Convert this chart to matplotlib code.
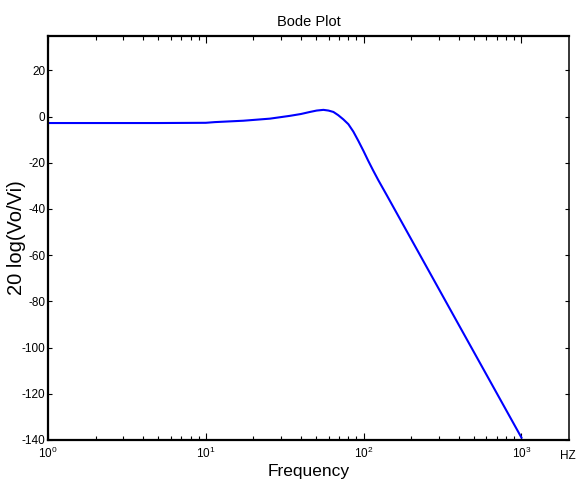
import matplotlib
matplotlib.use("Agg")
import matplotlib.pyplot as plt
from matplotlib.ticker import FixedLocator, FuncFormatter, NullFormatter
import numpy as np

# Magnitude response readings: frequency (Hz) and gain (dB)
freq_hz = [1, 5, 10, 11.4, 17.3, 25.5, 34, 40, 45.7, 50.4, 55.6, 59.8, 64.3,
           69, 74.3, 80, 86, 92.5, 99.6, 107, 115, 124, 140, 374, 1000]
gain_db = [-2.8, -2.8, -2.7, -2.4, -1.8, -0.9, 0.3, 1.1, 2.0, 2.6, 2.9, 2.6, 2.0,
           0.6, -1.2, -3.3, -6.5, -10.5, -14.8, -19.2, -23.4, -27.6, -34.0, -86.5, -139.0]

x_decades = [0, 1, 2, 3]
y_ticks = [-140, -120, -100, -80, -60, -40, -20, 0, 20]

narrow = ["Liberation Sans Narrow", "Liberation Sans", "DejaVu Sans"]
plt.rcParams["font.family"] = narrow
plt.rcParams["axes.unicode_minus"] = False

fig = plt.figure(figsize=(5.77, 4.91), dpi=100)
ax = fig.add_axes([48 / 577, 1 - 440 / 491, (569 - 48) / 577, (440 - 35.7) / 491])

ax.semilogx(freq_hz, gain_db, color="#0000ff", lw=1.5, solid_joinstyle="round")

ax.set_xlim(1, 2000)
ax.set_ylim(-140, 35)

major_x = [10.0 ** d for d in x_decades]
minor_x = [m * 10.0 ** d for d in x_decades for m in range(2, 10) if m * 10.0 ** d < 2000]
ax.xaxis.set_major_locator(FixedLocator(major_x))
ax.xaxis.set_minor_locator(FixedLocator(minor_x))
ax.xaxis.set_major_formatter(FuncFormatter(
    lambda v, p: r"$\mathdefault{10^{%d}}$" % round(np.log10(v))))
ax.xaxis.set_minor_formatter(NullFormatter())
ax.yaxis.set_major_locator(FixedLocator(y_ticks))

ax.tick_params(axis="both", which="both", direction="in", top=True, right=True,
               width=0.8, colors="black", labelsize=8.5)
ax.tick_params(axis="x", which="major", length=5, pad=4)
ax.tick_params(axis="x", which="minor", length=3)
ax.tick_params(axis="y", which="major", length=3, pad=2)

for side in ["left", "bottom", "top"]:
    ax.spines[side].set_linewidth(1.6)
ax.spines["right"].set_linewidth(1.1)

ax.set_title("Bode Plot", fontsize=10.5, pad=7)
ax.set_xlabel("Frequency", fontsize=12.5, labelpad=2)

# y label placed by hand so it stays inside the left margin
fig.text(17 / 577, 1 - 238 / 491, "20 log(Vo/Vi)", fontsize=14.5, rotation=90,
         ha="center", va="center", family=["Liberation Sans", "DejaVu Sans"])

fig.text(576 / 577, 1 - 456 / 491, "HZ", fontsize=8.5, ha="right", va="center")

fig.savefig("out.png", dpi=100, facecolor="white")
